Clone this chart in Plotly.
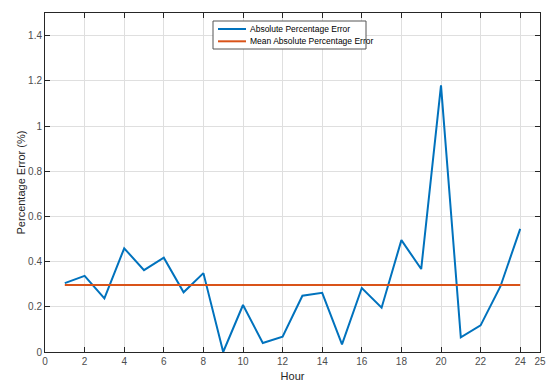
import plotly.graph_objects as go

hours = list(range(1, 25))
ape = [0.305, 0.337, 0.237, 0.459, 0.362, 0.417, 0.264, 0.349, 0.0, 0.208,
       0.040, 0.068, 0.249, 0.262, 0.034, 0.283, 0.196, 0.495, 0.367, 1.18,
       0.065, 0.118, 0.290, 0.545]
mape_value = 0.297
mape = [mape_value] * len(hours)

series_names = ["Absolute Percentage Error", "Mean Absolute Percentage Error"]
series_colors = ["#0072BD", "#D95319"]

x_ticks = [0, 2, 4, 6, 8, 10, 12, 14, 16, 18, 20, 22, 24, 25]
y_ticks = [0, 0.2, 0.4, 0.6, 0.8, 1.0, 1.2, 1.4]
y_ticktext = ["0", "0.2", "0.4", "0.6", "0.8", "1", "1.2", "1.4"]
x_title = "Hour"
y_title = "Percentage Error (%)"

fig = go.Figure()
for name, color, vals in zip(series_names, series_colors, [ape, mape]):
    fig.add_trace(go.Scatter(x=hours, y=vals, mode="lines", name=name,
                             line=dict(color=color, width=2), showlegend=False))

axis_common = dict(
    showline=True, linecolor="#262626", linewidth=1, mirror="ticks",
    ticks="inside", ticklen=5, tickcolor="#262626", tickwidth=1,
    showgrid=True, gridcolor="#DFDFDF", gridwidth=1, zeroline=False,
    automargin=False,
    tickfont=dict(family="Liberation Sans, Arial", size=10, color="#4D4D4D"),
)

# manual MATLAB-style legend box (paper coordinates)
leg_x0, leg_x1, leg_y0, leg_y1 = 0.3394, 0.6485, 0.8938, 0.9764
row_y = [0.9528, 0.9165]
line_x0, line_x1, text_x = 0.3495, 0.4061, 0.4101

shapes = [dict(type="rect", xref="paper", yref="paper", x0=leg_x0, x1=leg_x1,
               y0=leg_y0, y1=leg_y1, line=dict(color="#555555", width=1),
               fillcolor="white", layer="above")]
annotations = []
for name, color, ry in zip(series_names, series_colors, row_y):
    shapes.append(dict(type="line", xref="paper", yref="paper", x0=line_x0, x1=line_x1,
                       y0=ry, y1=ry, line=dict(color=color, width=2), layer="above"))
    annotations.append(dict(xref="paper", yref="paper", x=text_x, y=ry, text=name,
                            showarrow=False, xanchor="left", yanchor="middle",
                            font=dict(family="Liberation Sans, Arial", size=8.5, color="#000000")))

# y-axis title placed like MATLAB's
annotations.append(dict(xref="paper", yref="paper", x=-0.0485, y=0.5, text=y_title,
                        textangle=-90, showarrow=False, xanchor="center", yanchor="middle",
                        font=dict(family="Liberation Sans, Arial", size=11, color="#262626")))

fig.update_layout(
    width=554, height=383,
    margin=dict(l=45, r=14, t=13, b=31),
    paper_bgcolor="white", plot_bgcolor="white",
    font=dict(family="Liberation Sans, Arial", color="#262626"),
    xaxis=dict(range=[0, 25], tickvals=x_ticks,
               title=dict(text=x_title, font=dict(size=11, color="#262626"), standoff=6),
               **axis_common),
    yaxis=dict(range=[0, 1.5], tickvals=y_ticks, ticktext=y_ticktext, **axis_common),
    shapes=shapes,
    annotations=annotations,
    showlegend=False,
)

fig.write_html("out.html", config={"displayModeBar": False},
               post_script="document.body.style.margin='0';document.body.style.overflow='hidden';")
